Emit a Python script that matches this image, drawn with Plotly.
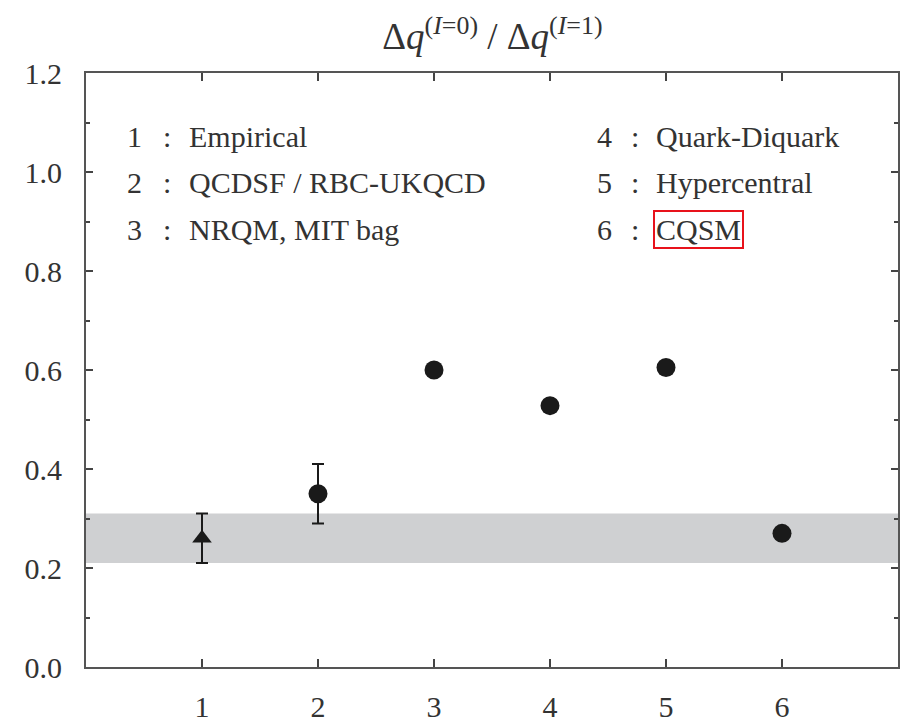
import plotly.graph_objects as go

# ---- data ----
models = [1, 2, 3, 4, 5, 6]
ratio = [0.26, 0.35, 0.60, 0.528, 0.605, 0.27]
err = [0.05, 0.06, None, None, None, None]
band_lo, band_hi = 0.21, 0.31
legend_nums = ["1", "2", "3", "4", "5", "6"]
legend_names = ["Empirical", "QCDSF / RBC-UKQCD", "NRQM, MIT bag",
                "Quark-Diquark", "Hypercentral", "CQSM"]
y_ticks = [0.0, 0.2, 0.4, 0.6, 0.8, 1.0, 1.2]
x_ticks = [1, 2, 3, 4, 5, 6]

FONT = "Liberation Serif"
TXT = "#333333"
MK = "#1a1a1a"

fig = go.Figure()

fig.add_trace(go.Scatter(
    x=models[:1], y=ratio[:1], mode="markers",
    marker=dict(symbol="triangle-up", size=17, color=MK),
    error_y=dict(type="data", array=err[:1], color=MK, thickness=2, width=6),
    showlegend=False))
fig.add_trace(go.Scatter(
    x=models[1:2], y=ratio[1:2], mode="markers",
    marker=dict(symbol="circle", size=19, color=MK),
    error_y=dict(type="data", array=err[1:2], color=MK, thickness=2, width=6),
    showlegend=False))
fig.add_trace(go.Scatter(
    x=models[2:], y=ratio[2:], mode="markers",
    marker=dict(symbol="circle", size=19, color=MK),
    showlegend=False))

fig.add_shape(type="rect", xref="paper", x0=0, x1=1, yref="y",
              y0=band_lo, y1=band_hi, fillcolor="#cfd0d2",
              line=dict(width=0), layer="below")

rows_y = [1.071, 0.978, 0.883]
cols = [(0.42, 0.70, 0.86), (4.47, 4.73, 4.89)]
for i, (num, name) in enumerate(zip(legend_nums, legend_names)):
    c = cols[i // 3]
    yy = rows_y[i % 3]
    fig.add_annotation(x=c[0], y=yy, text=num, showarrow=False,
                       xanchor="center", yanchor="middle",
                       font=dict(family=FONT, size=30, color=TXT))
    fig.add_annotation(x=c[1], y=yy, text=":", showarrow=False,
                       xanchor="center", yanchor="middle",
                       font=dict(family=FONT, size=30, color=TXT))
    boxed = (name == "CQSM")
    fig.add_annotation(x=c[2], y=yy, text=name, showarrow=False,
                       xanchor="left", yanchor="middle",
                       font=dict(family=FONT, size=30, color=TXT),
                       bordercolor="#e8121b" if boxed else "rgba(0,0,0,0)",
                       borderwidth=2, borderpad=1)

axis_common = dict(showline=True, linecolor="#555555", linewidth=2,
                   mirror="ticks", ticks="inside", tickcolor="#444444",
                   tickwidth=2, showgrid=False, zeroline=False,
                   automargin=False,
                   tickfont=dict(family=FONT, size=30, color=TXT))

fig.update_xaxes(range=[0, 7], tickvals=x_ticks,
                 ticktext=[str(v) for v in x_ticks], ticklen=8,
                 ticklabelstandoff=12, **axis_common)
fig.update_yaxes(range=[0, 1.2], tickvals=y_ticks,
                 ticktext=[f"{v:.1f}" for v in y_ticks], ticklen=7,
                 ticklabelstandoff=16,
                 minor=dict(dtick=0.1, ticks="inside", ticklen=4,
                            tickcolor="#444444", tickwidth=2, showgrid=False),
                 **axis_common)

fig.update_layout(
    width=906, height=724,
    margin=dict(l=86, r=8, t=73, b=57),
    font=dict(family=FONT, color=TXT),
    plot_bgcolor="white", paper_bgcolor="white",
    title=dict(text="Δ<i>q</i><sup>(<i>I</i>=0)</sup> / Δ<i>q</i><sup>(<i>I</i>=1)</sup>",
               x=0.5435, xanchor="center", y=0.95, yanchor="middle",
               font=dict(family=FONT, size=37, color=TXT)),
)

fig.write_html("out.html")
